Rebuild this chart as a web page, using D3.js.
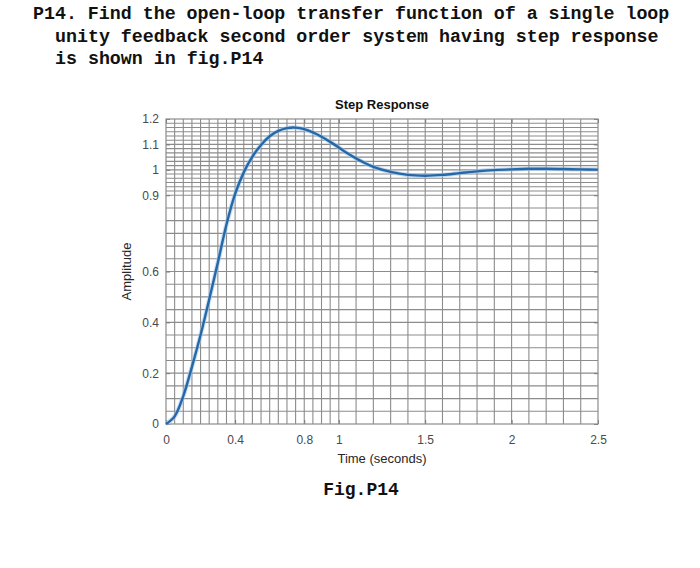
<!DOCTYPE html>
<html lang="en">
<head>
<meta charset="utf-8">
<title>P14 Step Response</title>
<script src="https://d3js.org/d3.v7.min.js"></script>
<style>
  body { margin: 0; background: #fff; }
  .q { font-family: "Liberation Mono", "DejaVu Sans Mono", monospace; font-weight: bold; font-size: 18.3px; fill: #111; }
  .tick text { font-family: "Liberation Sans", Arial, sans-serif; font-size: 12px; fill: #4a4a4a; }
  .tick line { stroke: #777; }
  .lbl { font-family: "Liberation Sans", Arial, sans-serif; font-size: 13px; fill: #262626; }
</style>
</head>
<body>
<div id="vis"></div>
<script>
// question text
var questionLines = [
  "P14. Find the open-loop transfer function of a single loop",
  "unity feedback second order system having step response",
  "is shown in fig.P14"
];

// step response (time in s, amplitude)
var time = [0, 0.05, 0.1, 0.15, 0.2, 0.25, 0.3, 0.35, 0.4, 0.45, 0.5, 0.55, 0.6, 0.65, 0.7,
            0.75, 0.8, 0.85, 0.9, 0.95, 1.0, 1.05, 1.1, 1.15, 1.2, 1.3, 1.4, 1.5, 1.6, 1.7,
            1.8, 1.9, 2.0, 2.1, 2.2, 2.3, 2.4, 2.5];
var amplitude = [0, 0.03, 0.11, 0.225, 0.35, 0.49, 0.635, 0.785, 0.905, 0.99, 1.052, 1.098, 1.132, 1.153, 1.164,
                 1.166, 1.16, 1.147, 1.13, 1.11, 1.088, 1.065, 1.045, 1.027, 1.012, 0.992, 0.98, 0.977, 0.98, 0.987,
                 0.994, 0.999, 1.002, 1.004, 1.004, 1.003, 1.002, 1.001];

var xTicks = [0, 0.4, 0.8, 1, 1.5, 2, 2.5];
var yTicks = [0, 0.2, 0.4, 0.6, 0.9, 1, 1.1, 1.2];

var width = 700, height = 568;
var margin = {left: 166, top: 119, right: 102, bottom: 144};
var w = width - margin.left - margin.right;
var h = height - margin.top - margin.bottom;

var svg = d3.select("#vis").append("svg")
  .attr("width", width)
  .attr("height", height);

svg.selectAll("text.q")
  .data(questionLines)
  .enter().append("text")
  .attr("class", "q")
  .attr("x", function(d, i) { return i == 0 ? 33 : 55; })
  .attr("y", function(d, i) { return 19 + i * 22.5; })
  .attr("xml:space", "preserve")
  .text(function(d) { return d; });

var x = d3.scaleLinear().domain([0, 2.5]).range([0, w]);
var y = d3.scaleLinear().domain([0, 1.2]).range([h, 0]);

var g = svg.append("g")
  .attr("transform", "translate(" + margin.left + "," + margin.top + ")");

// hand drawn grid: fine near the start / around the final value
var vGrid = d3.range(0.05, 1.0001, 0.05).concat(d3.range(1.1, 2.45, 0.1));
var hGrid = d3.range(0.05, 0.9001, 0.05).concat(d3.range(0.9 + 1/60, 1.19, 1/60));

g.selectAll("line.vg")
  .data(vGrid)
  .enter().append("line")
  .attr("x1", function(d) { return x(d); })
  .attr("x2", function(d) { return x(d); })
  .attr("y1", 0).attr("y2", h)
  .style("stroke", "#8c8c8c").style("stroke-width", 1.1);

g.selectAll("line.hg")
  .data(hGrid)
  .enter().append("line")
  .attr("y1", function(d) { return y(d); })
  .attr("y2", function(d) { return y(d); })
  .attr("x1", 0).attr("x2", w)
  .style("stroke", "#8c8c8c").style("stroke-width", 1.1);

// axes with inward ticks on all four sides
var xAxis = d3.axisBottom(x).tickValues(xTicks).tickFormat(d3.format("")).tickSizeInner(-4).tickSizeOuter(0).tickPadding(11);
var yAxis = d3.axisLeft(y).tickValues(yTicks).tickFormat(d3.format("")).tickSizeInner(-4).tickSizeOuter(0).tickPadding(7);

g.append("g").attr("class", "x axis").attr("transform", "translate(0," + h + ")").call(xAxis);
g.append("g").attr("class", "y axis").call(yAxis);
g.append("g").attr("transform", "translate(0,0)")
  .call(d3.axisTop(x).tickValues(xTicks).tickFormat("").tickSizeInner(-4).tickSizeOuter(0));
g.append("g").attr("transform", "translate(" + w + ",0)")
  .call(d3.axisRight(y).tickValues(yTicks).tickFormat("").tickSizeInner(-4).tickSizeOuter(0));
g.selectAll(".domain").remove();

g.append("rect")
  .attr("width", w).attr("height", h)
  .style("fill", "none").style("stroke", "#8c8c8c").style("stroke-width", 1.2);

var line = d3.line()
  .x(function(d, i) { return x(time[i]); })
  .y(function(d) { return y(d); })
  .curve(d3.curveCatmullRom.alpha(0.5));

// soft halo then the main trace
g.append("path")
  .attr("d", line(amplitude))
  .style("fill", "none").style("stroke", "#9cc8ec").style("stroke-width", 4.5).style("stroke-opacity", 0.6);
g.append("path")
  .attr("d", line(amplitude))
  .style("fill", "none").style("stroke", "#2767a8").style("stroke-width", 2.4);

g.append("text")
  .attr("class", "lbl")
  .attr("x", w / 2).attr("y", -10)
  .attr("text-anchor", "middle")
  .style("font-weight", "bold").style("fill", "#111")
  .text("Step Response");

g.append("text")
  .attr("class", "lbl")
  .attr("x", w / 2).attr("y", h + 39)
  .attr("text-anchor", "middle")
  .text("Time (seconds)");

g.append("text")
  .attr("class", "lbl")
  .attr("transform", "translate(-35," + (h / 2) + ") rotate(-90)")
  .attr("text-anchor", "middle")
  .text("Amplitude");

svg.append("text")
  .attr("class", "q")
  .attr("x", 361).attr("y", 495)
  .attr("text-anchor", "middle")
  .style("font-size", "18px")
  .text("Fig.P14");
</script>
</body>
</html>
